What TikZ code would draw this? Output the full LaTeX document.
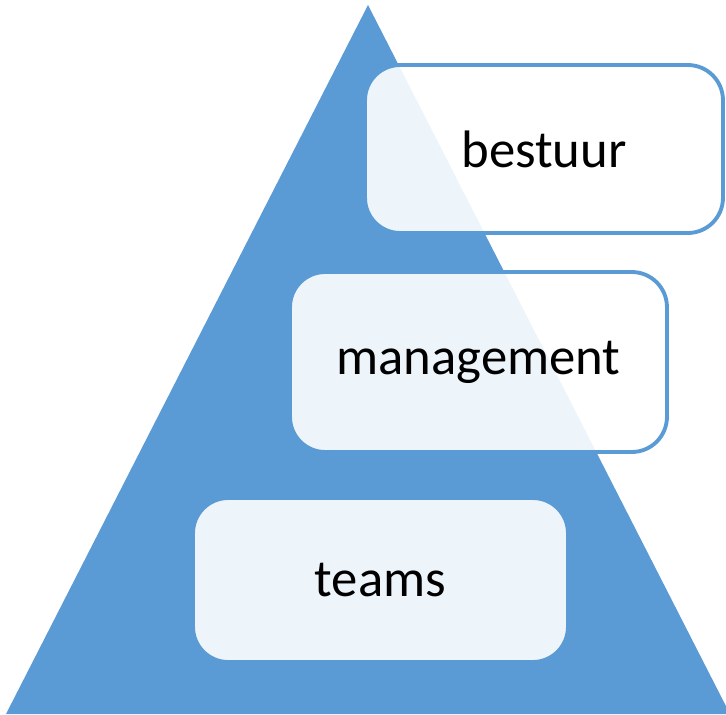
\documentclass[tikz,border=0pt]{standalone}
\usepackage{fontspec}
\setmainfont{Carlito}
\definecolor{pyrblue}{HTML}{5B9BD5}
\tikzset{
  levelbox/.style={rectangle, rounded corners=20pt, draw=pyrblue, line width=2.2pt,
    fill=white, fill opacity=0.9, text opacity=1, font=\fontsize{30}{36}\selectfont},
}

\begin{document}
\begin{tikzpicture}[x=0.02cm, y=-0.02cm]
\useasboundingbox (0,0) rectangle (726,714);
% pyramid
\fill[pyrblue] (368,5) -- (730,714) -- (6,714) -- cycle;
% levels
\node[levelbox, minimum width=7.16cm, minimum height=3.36cm] (bestuur) at (544,149) {bestuur};
\node[levelbox, minimum width=7.54cm, minimum height=3.6cm] (management) at (478.5,362) {management};
\node[levelbox, minimum width=7.5cm, minimum height=3.28cm] (teams) at (380.5,580) {teams};
\end{tikzpicture}
\end{document}
